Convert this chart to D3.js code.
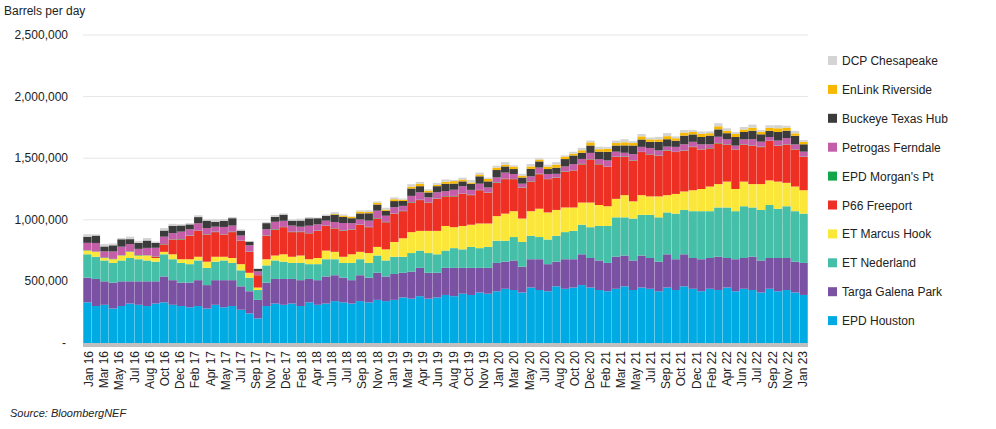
<!DOCTYPE html>
<html>
<head>
<meta charset="utf-8">
<script src="https://cdn.jsdelivr.net/npm/d3@7"></script>
<style>
  body { margin: 0; background: #fff; font-family: "Liberation Sans", Arial, sans-serif; }
  text { fill: #222; }
</style>
</head>
<body>
<script>
// monthly volumes, thousand barrels per day, Jan 2016 - Jan 2023
var epdHouston = [330,300,310,280,300,320,310,300,320,330,310,300, 290,300,280,310,290,300,270,240,200,300,320,310, 320,300,330,310,320,340,330,320,340,330,350,340, 350,370,360,380,360,370,390,380,400,390,410,400, 420,440,430,410,450,430,420,460,440,450,470,450, 430,420,440,460,430,450,440,420,450,430,460,440, 420,440,430,450,420,440,430,410,440,420,430,410, 390];
var targaGalena = [200,220,190,210,200,180,190,200,180,210,200,190, 200,210,190,200,220,210,190,180,150,190,200,210, 200,210,190,200,220,210,200,190,210,200,220,200, 210,200,220,230,210,200,220,230,210,220,200,210, 230,220,240,210,230,250,220,200,240,230,250,240, 240,230,260,250,240,260,250,240,270,250,260,250, 260,250,270,240,260,250,270,260,250,270,260,250, 260];
var etNederland = [190,180,170,160,170,190,180,170,160,180,170,160, 150,160,140,150,160,140,130,110,80,140,150,140, 130,140,120,130,140,130,120,140,130,120,140,130, 140,130,150,140,160,150,140,160,150,170,160,170, 180,170,190,200,190,180,200,210,220,230,240,250, 280,300,320,310,340,330,350,360,340,370,360,380, 390,380,400,410,390,420,400,410,430,400,420,410, 400];
var etMarcusHook = [30,40,20,30,40,50,30,40,30,20,40,30, 40,30,50,40,30,40,50,40,20,50,40,60, 50,60,40,50,70,60,50,70,60,80,70,90, 120,150,170,160,180,190,200,170,190,180,200,190, 200,220,210,190,200,230,220,210,200,190,180,200, 170,160,150,180,140,160,150,170,140,160,150,170, 180,200,190,210,180,200,190,210,200,220,190,200, 190];
var p66Freeport = [0,0,0,0,0,0,0,0,10,60,120,160, 190,210,220,200,180,210,190,170,100,190,210,220, 200,190,210,220,200,190,210,200,220,210,230,220, 230,220,240,250,230,260,240,250,260,240,270,250, 270,280,260,250,240,280,270,260,290,300,310,350, 330,320,340,310,330,350,340,330,360,340,330,350, 320,310,330,300,320,300,310,300,320,290,310,300, 270];
var epdMorgans = [3,2,4,3,2,3,4,2,3,3,2,4, 3,2,3,4,2,3,2,3,1,3,4,2, 3,4,2,3,3,2,4,3,2,3,4,3, 2,3,4,3,2,3,3,4,2,3,3,2, 4,3,2,3,3,4,2,3,3,2,4,3, 3,2,3,4,3,2,3,3,4,2,3,3, 2,3,4,3,2,3,3,4,2,3,3,2, 3];
var petrogas = [60,70,50,60,70,60,50,60,70,60,50,60, 50,60,50,40,60,50,40,50,30,50,60,50, 50,40,60,50,40,50,60,50,40,50,60,50, 50,40,50,60,40,50,40,50,60,40,50,40, 40,50,40,30,40,50,40,30,40,50,40,50, 40,50,40,30,50,40,50,40,30,40,50,40, 40,30,50,40,30,40,50,40,30,40,50,40, 40];
var buckeye = [50,60,40,50,60,40,50,60,40,50,60,50, 40,50,60,40,50,60,40,30,20,50,40,50, 40,50,60,50,40,60,50,40,50,60,50,40, 50,40,60,50,40,50,60,50,40,50,60,50, 60,50,40,50,60,50,40,50,60,70,50,60, 60,70,50,60,70,60,50,70,60,50,70,60, 60,70,60,50,70,60,70,60,50,70,60,70, 60];
var enlink = [0,0,0,0,0,0,0,0,0,0,0,0, 0,0,0,0,0,0,0,0,0,0,0,0, 0,0,0,0,0,5,10,10,15,10,15,10, 15,10,15,20,15,10,15,20,15,10,15,20, 20,15,20,15,20,15,20,25,20,15,20,25, 20,25,20,25,20,25,20,20,25,20,25,20, 25,20,25,20,25,20,25,20,25,30,25,20, 20];
var dcp = [20,10,20,15,10,20,15,20,10,20,15,10, 10,15,10,20,15,10,10,5,5,10,15,10, 10,15,10,5,10,15,10,5,10,15,10,15, 15,10,20,15,10,15,20,10,15,20,15,10, 15,20,10,15,20,10,15,20,10,15,20,15, 20,15,20,25,15,20,15,20,25,15,20,15, 20,15,25,20,15,20,25,15,20,25,15,20, 15];

var seriesNames = ["EPD Houston","Targa Galena Park","ET Nederland","ET Marcus Hook","P66 Freeport","EPD Morgan's Pt","Petrogas Ferndale","Buckeye Texas Hub","EnLink Riverside","DCP Chesapeake"];
var seriesData = [epdHouston,targaGalena,etNederland,etMarcusHook,p66Freeport,epdMorgans,petrogas,buckeye,enlink,dcp];
var seriesColors = ["#00abe3","#7b52a3","#45bfa8","#fbe73a","#ee2f24","#13a54a","#c45ea8","#3b3b3b","#f9b800","#d4d4d4"];
var tickLabels = ["Jan 16","Mar 16","May 16","Jul 16","Aug 16","Oct 16","Dec 16","Feb 17","Apr 17","May 17","Jul 17","Sep 17","Nov 17","Dec 17","Feb 18","Apr 18","Jun 18","Jul 18","Sep 18","Nov 18","Jan 19","Mar 19","Apr 19","Jun 19","Aug 19","Oct 19","Nov 19","Jan 20","Mar 20","May 20","Jul 20","Aug 20","Oct 20","Dec 20","Feb 21","Mar 21","May 21","Jul 21","Sep 21","Oct 21","Dec 21","Feb 22","Apr 22","Jun 22","Jul 22","Sep 22","Nov 22","Jan 23"];
var yTicks = [0,500000,1000000,1500000,2000000,2500000];

var width = 996, height = 429;
var svg = d3.select("body").append("svg").attr("width", width).attr("height", height);

var months = d3.range(epdHouston.length);
var rows = months.map(function(i){
    var r = {i: i};
    seriesNames.forEach(function(n, k){ r[n] = seriesData[k][i] * 1000; });
    return r;
});

var x = d3.scaleBand().domain(months).range([83, 808]).padding(0.03);
var y = d3.scaleLinear().domain([0, 2500000]).range([343, 35]);

//gridlines
svg.selectAll(".grid").data(yTicks.slice(1)).enter().append("line")
    .attr("x1", 83).attr("x2", 808)
    .attr("y1", function(d){ return y(d); }).attr("y2", function(d){ return y(d); })
    .attr("stroke", "#e6e6e6");

//y labels
svg.selectAll(".ylab").data(yTicks).enter().append("text")
    .attr("x", function(d){ return d === 0 ? 66 : 68; })
    .attr("y", function(d){ return y(d) + 4; })
    .attr("text-anchor", "end")
    .attr("font-size", 12)
    .text(function(d){ return d === 0 ? "-" : d3.format(",")(d); });

svg.append("text").attr("x", 4).attr("y", 15).attr("font-size", 12).text("Barrels per day");

//stacked bars
var stack = d3.stack().keys(seriesNames)(rows);
svg.selectAll(".layer").data(stack).enter().append("g")
    .attr("fill", function(d, k){ return seriesColors[k]; })
    .selectAll("rect").data(function(d){ return d; }).enter().append("rect")
    .attr("x", function(d){ return x(d.data.i); })
    .attr("width", x.bandwidth())
    .attr("y", function(d){ return y(d[1]); })
    .attr("height", function(d){ return y(d[0]) - y(d[1]); });

//axis band
svg.append("rect").attr("x", 83).attr("y", 343).attr("width", 725).attr("height", 4).attr("fill", "#bfbfbf");

//x labels
var xl = d3.scalePoint().domain(tickLabels).range([89, 803]);
svg.selectAll(".xlab").data(tickLabels).enter().append("text")
    .attr("transform", function(d){ return "translate(" + (xl(d) + 4) + ",351) rotate(-90)"; })
    .attr("text-anchor", "end")
    .attr("font-size", 12)
    .text(function(d){ return d; });

//legend
var legend = svg.selectAll(".leg").data(seriesNames.slice().reverse()).enter().append("g")
    .attr("transform", function(d, i){ return "translate(828," + (60 + i * 28.9) + ")"; });
legend.append("rect").attr("x", 0).attr("y", -4).attr("width", 9).attr("height", 9)
    .attr("fill", function(d){ return seriesColors[seriesNames.indexOf(d)]; });
legend.append("text").attr("x", 14).attr("y", 5).attr("font-size", 12).text(function(d){ return d; });

svg.append("text").attr("x", 10).attr("y", 417).attr("font-size", 11).attr("font-style", "italic").text("Source: BloombergNEF");
</script>
</body>
</html>
